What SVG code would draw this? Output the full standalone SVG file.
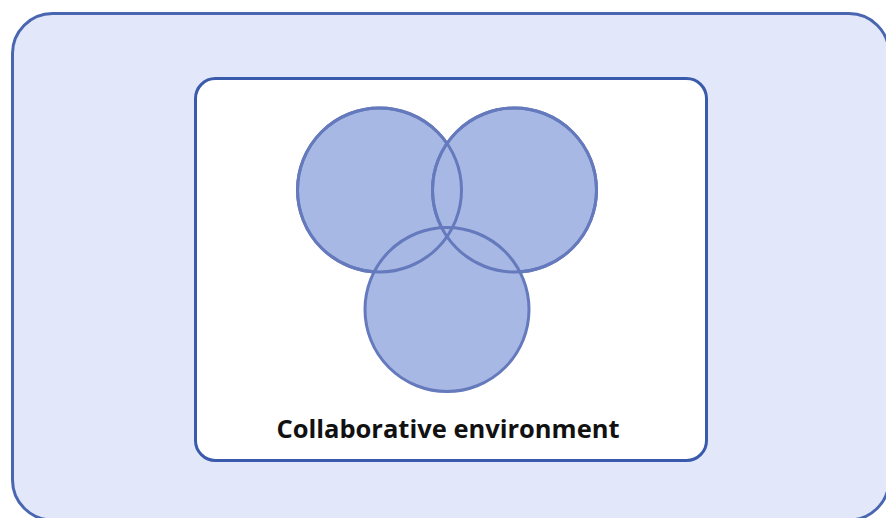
<svg xmlns="http://www.w3.org/2000/svg" width="886" height="518" viewBox="0 0 886 518">
  <style>
    .frame-outer { fill: #e2e8fa; stroke: #4a66b0; stroke-width: 3; }
    .frame-inner { fill: #ffffff; stroke: #3a5aac; stroke-width: 3; }
    .disc { fill: #a8b8e4; stroke: #6579bd; stroke-width: 3; }
    .label { font-family: "Open Sans", "Liberation Sans", sans-serif; font-weight: bold; font-size: 25.5px; fill: #111111; }
  </style>
  <rect width="886" height="518" fill="#ffffff"/>
  <g id="outer-frame">
    <rect class="frame-outer" x="12.5" y="13.5" width="876.5" height="506.5" rx="40" ry="40"/>
  </g>
  <g id="environment">
    <rect class="frame-inner" x="195.5" y="78.5" width="511" height="382" rx="20" ry="20"/>
    <text class="label" x="448" y="437.5" text-anchor="middle">Collaborative environment</text>
  </g>
  <g id="circle-left">
    <circle class="disc" cx="379.5" cy="190" r="82"/>
  </g>
  <g id="circle-right">
    <circle class="disc" cx="514.5" cy="190" r="82"/>
  </g>
  <g id="circle-bottom">
    <circle class="disc" cx="447" cy="309.5" r="82"/>
  </g>
  <!-- upper circle rims redrawn so their arcs show over the lower disc -->
  <g id="overlap-outlines" fill="none" stroke="#6579bd" stroke-width="3">
    <circle cx="379.5" cy="190" r="82"/>
    <circle cx="514.5" cy="190" r="82"/>
  </g>
</svg>
